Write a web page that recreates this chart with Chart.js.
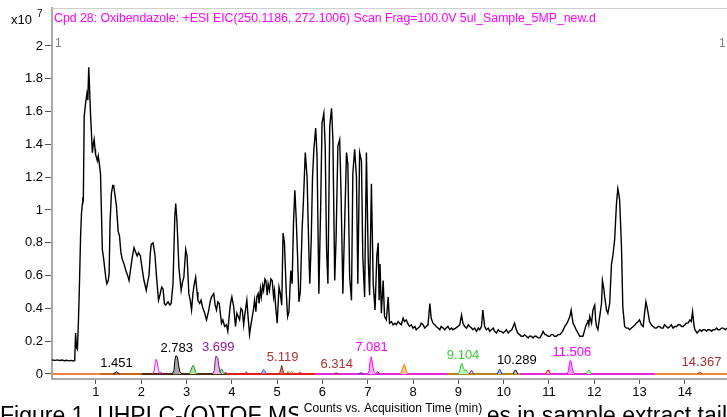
<!DOCTYPE html>
<html lang="en">
<head>
<meta charset="UTF-8">
<title>Cpd 28: Oxibendazole EIC</title>
<style>
  html, body { margin: 0; padding: 0; background: #fff; overflow: hidden; }
  #chart { display: block; }
</style>
</head>
<body>
<canvas id="chart" width="727" height="417"></canvas>
<script src="https://cdn.jsdelivr.net/npm/chart.js@4.4.0/dist/chart.umd.min.js"></script>
<script>
// total ion trace, counts in units of 10^7
var ticTime = [
  0.03, 0.10, 0.15, 0.20, 0.25, 0.30, 0.35, 0.40, 0.45, 0.50, 0.53, 0.55, 0.57, 0.59, 0.61, 0.63, 0.66, 0.68, 0.70, 0.71,
  0.72, 0.74, 0.77, 0.80, 0.82, 0.84, 0.86, 0.88, 0.90, 0.92, 0.94, 0.96, 0.98, 0.99, 1.01, 1.03, 1.05, 1.07, 1.10, 1.14,
  1.17, 1.19, 1.22, 1.24, 1.27, 1.29, 1.31, 1.34, 1.37, 1.39, 1.42, 1.45, 1.49, 1.52, 1.55, 1.58, 1.62, 1.66, 1.70, 1.73,
  1.77, 1.80, 1.84, 1.88, 1.91, 1.94, 1.98, 2.02, 2.06, 2.11, 2.14, 2.17, 2.20, 2.22, 2.26, 2.30, 2.34, 2.38, 2.41, 2.45,
  2.48, 2.51, 2.54, 2.59, 2.63, 2.66, 2.70, 2.74, 2.76, 2.79, 2.83, 2.88, 2.91, 2.94, 2.98, 3.01, 3.05, 3.08, 3.11, 3.14,
  3.17, 3.20, 3.23, 3.25, 3.29, 3.32, 3.35, 3.40, 3.44, 3.49, 3.52, 3.55, 3.60, 3.63, 3.66, 3.69, 3.72, 3.75, 3.77, 3.80,
  3.84, 3.88, 3.91, 3.95, 3.97, 4.00, 4.04, 4.08, 4.11, 4.14, 4.17, 4.20, 4.23, 4.26, 4.28, 4.33, 4.36, 4.39, 4.42, 4.45,
  4.48, 4.50, 4.53, 4.55, 4.58, 4.60, 4.63, 4.65, 4.68, 4.70, 4.73, 4.75, 4.78, 4.80, 4.83, 4.86, 4.89, 4.92, 4.94, 4.97,
  5.00, 5.04, 5.07, 5.10, 5.13, 5.16, 5.20, 5.23, 5.26, 5.30, 5.33, 5.36, 5.39, 5.42, 5.45, 5.48, 5.51, 5.55, 5.58, 5.62,
  5.66, 5.70, 5.72, 5.75, 5.78, 5.81, 5.85, 5.88, 5.92, 5.96, 5.99, 6.03, 6.06, 6.09, 6.12, 6.16, 6.20, 6.23, 6.27, 6.30,
  6.34, 6.38, 6.41, 6.45, 6.49, 6.53, 6.56, 6.60, 6.64, 6.67, 6.71, 6.75, 6.78, 6.82, 6.86, 6.89, 6.93, 6.97, 7.01, 7.04,
  7.08, 7.12, 7.16, 7.20, 7.23, 7.25, 7.27, 7.30, 7.34, 7.37, 7.41, 7.45, 7.48, 7.52, 7.56, 7.60, 7.63, 7.67, 7.70, 7.74,
  7.78, 7.81, 7.85, 7.88, 7.92, 7.96, 8.00, 8.04, 8.07, 8.11, 8.15, 8.18, 8.22, 8.26, 8.29, 8.33, 8.37, 8.40, 8.44, 8.48,
  8.51, 8.55, 8.59, 8.62, 8.66, 8.70, 8.73, 8.77, 8.81, 8.85, 8.88, 8.94, 8.99, 9.03, 9.07, 9.10, 9.14, 9.18, 9.22, 9.25,
  9.29, 9.32, 9.36, 9.40, 9.44, 9.47, 9.51, 9.54, 9.58, 9.62, 9.66, 9.69, 9.73, 9.77, 9.80, 9.84, 9.88, 9.91, 9.95, 9.99,
  10.03, 10.06, 10.10, 10.13, 10.18, 10.24, 10.28, 10.31, 10.35, 10.39, 10.43, 10.46, 10.50, 10.54, 10.57, 10.61, 10.65, 10.68, 10.72, 10.76,
  10.80, 10.84, 10.87, 10.91, 10.94, 10.98, 11.02, 11.05, 11.09, 11.12, 11.16, 11.20, 11.24, 11.30, 11.35, 11.40, 11.46, 11.49, 11.53, 11.57,
  11.60, 11.64, 11.68, 11.72, 11.75, 11.78, 11.81, 11.84, 11.86, 11.88, 11.90, 11.94, 11.97, 12.01, 12.03, 12.05, 12.08, 12.12, 12.16, 12.18,
  12.21, 12.23, 12.27, 12.30, 12.34, 12.38, 12.41, 12.45, 12.49, 12.52, 12.54, 12.56, 12.60, 12.63, 12.67, 12.71, 12.75, 12.78, 12.82, 12.86,
  12.90, 12.93, 12.97, 13.00, 13.04, 13.08, 13.11, 13.14, 13.17, 13.19, 13.22, 13.26, 13.30, 13.34, 13.37, 13.41, 13.44, 13.48, 13.52, 13.55,
  13.59, 13.63, 13.67, 13.70, 13.74, 13.78, 13.82, 13.85, 13.89, 13.93, 13.96, 14.00, 14.03, 14.07, 14.11, 14.14, 14.17, 14.20, 14.22, 14.27,
  14.30, 14.33, 14.37, 14.40, 14.44, 14.48, 14.51, 14.55, 14.59, 14.62, 14.66, 14.70, 14.73, 14.77, 14.81, 14.85, 14.89, 14.93
];
var ticCounts = [
  0.085, 0.083, 0.086, 0.082, 0.085, 0.081, 0.084, 0.080, 0.083, 0.079, 0.082, 0.25, 0.16, 0.15, 0.30, 0.49, 0.84, 0.98, 1.04, 1.08,
  1.05, 1.57, 1.65, 1.71, 1.67, 1.87, 1.73, 1.58, 1.47, 1.35, 1.40, 1.43, 1.37, 1.34, 1.32, 1.30, 1.33, 1.29, 1.22, 0.76,
  0.70, 0.65, 0.58, 0.55, 0.57, 0.61, 0.92, 1.10, 1.15, 1.15, 1.09, 1.03, 0.87, 0.84, 0.74, 0.70, 0.67, 0.63, 0.60, 0.57,
  0.65, 0.71, 0.77, 0.74, 0.72, 0.74, 0.72, 0.64, 0.57, 0.51, 0.56, 0.60, 0.74, 0.79, 0.80, 0.73, 0.58, 0.45, 0.48, 0.53,
  0.52, 0.43, 0.42, 0.44, 0.42, 0.43, 0.55, 0.96, 1.04, 0.92, 0.65, 0.51, 0.56, 0.59, 0.76, 0.72, 0.49, 0.45, 0.39, 0.49,
  0.55, 0.59, 0.50, 0.45, 0.43, 0.45, 0.41, 0.37, 0.33, 0.39, 0.44, 0.47, 0.49, 0.42, 0.39, 0.44, 0.43, 0.36, 0.31, 0.33,
  0.29, 0.30, 0.26, 0.38, 0.43, 0.47, 0.41, 0.29, 0.37, 0.35, 0.33, 0.40, 0.39, 0.30, 0.35, 0.45, 0.34, 0.24, 0.30, 0.35,
  0.40, 0.45, 0.38, 0.47, 0.49, 0.43, 0.52, 0.47, 0.54, 0.51, 0.58, 0.57, 0.48, 0.55, 0.51, 0.58, 0.57, 0.47, 0.51, 0.40,
  0.31, 0.53, 0.49, 0.42, 0.86, 0.80, 0.50, 0.35, 0.38, 0.63, 0.55, 0.92, 1.12, 0.95, 0.72, 0.44, 0.50, 0.88, 1.06, 1.35,
  1.20, 0.74, 0.55, 0.80, 1.20, 1.37, 1.50, 1.33, 0.49, 1.02, 1.53, 1.59, 1.39, 0.76, 0.55, 1.51, 1.62, 1.43, 0.57, 0.82,
  1.39, 1.43, 1.10, 0.49, 0.92, 1.35, 1.28, 0.59, 0.45, 1.22, 1.37, 1.20, 0.55, 1.35, 1.30, 0.72, 0.47, 1.35, 0.70, 0.48,
  1.16, 0.55, 0.39, 0.72, 0.80, 0.45, 0.67, 0.37, 0.57, 0.35, 0.33, 0.47, 0.31, 0.32, 0.30, 0.31, 0.30, 0.32, 0.31, 0.30,
  0.34, 0.32, 0.33, 0.31, 0.29, 0.30, 0.28, 0.29, 0.27, 0.28, 0.29, 0.31, 0.30, 0.28, 0.29, 0.30, 0.43, 0.34, 0.31, 0.30,
  0.29, 0.28, 0.27, 0.29, 0.28, 0.27, 0.28, 0.29, 0.27, 0.28, 0.27, 0.28, 0.29, 0.30, 0.36, 0.31, 0.29, 0.28, 0.30, 0.29,
  0.28, 0.27, 0.28, 0.26, 0.28, 0.27, 0.29, 0.39, 0.29, 0.27, 0.28, 0.26, 0.27, 0.28, 0.26, 0.25, 0.27, 0.26, 0.26, 0.25,
  0.26, 0.27, 0.25, 0.26, 0.27, 0.31, 0.27, 0.25, 0.24, 0.23, 0.23, 0.24, 0.23, 0.22, 0.23, 0.23, 0.22, 0.23, 0.23, 0.22,
  0.22, 0.24, 0.26, 0.24, 0.24, 0.23, 0.23, 0.24, 0.24, 0.23, 0.23, 0.24, 0.24, 0.26, 0.29, 0.31, 0.35, 0.39, 0.31, 0.29,
  0.27, 0.25, 0.23, 0.23, 0.23, 0.26, 0.29, 0.31, 0.33, 0.30, 0.35, 0.31, 0.39, 0.42, 0.33, 0.29, 0.27, 0.35, 0.43, 0.57,
  0.52, 0.47, 0.39, 0.37, 0.43, 0.67, 0.72, 0.82, 1.04, 1.13, 1.10, 1.06, 0.78, 0.41, 0.29, 0.28, 0.28, 0.27, 0.28, 0.29,
  0.30, 0.31, 0.32, 0.33, 0.30, 0.29, 0.37, 0.44, 0.40, 0.37, 0.32, 0.30, 0.29, 0.28, 0.28, 0.29, 0.29, 0.28, 0.28, 0.30,
  0.29, 0.28, 0.29, 0.30, 0.28, 0.29, 0.29, 0.30, 0.30, 0.29, 0.29, 0.30, 0.31, 0.31, 0.33, 0.32, 0.38, 0.30, 0.27, 0.25,
  0.26, 0.27, 0.26, 0.27, 0.27, 0.26, 0.27, 0.27, 0.26, 0.27, 0.27, 0.28, 0.27, 0.27, 0.28, 0.28, 0.27, 0.28
];

// extracted ion traces drawn along the baseline
var baseStart = [0.03, 1.08, 2.00, 3.88, 5.85, 8.75, 10.35, 13.35];
var baseEnd   = [1.08, 2.00, 3.88, 5.85, 8.75, 10.35, 13.35, 14.93];
var baseColors = ['#f2804a', '#c8661c', '#4c2a12', '#e41c1c', '#e828d8', '#b08a14', '#e828d8', '#ee8a30'];

var eicTimes = [
  [1.38, 1.42, 1.45, 1.48, 1.52],
  [2.24, 2.29, 2.31, 2.33, 2.35, 2.38, 2.41, 2.44, 2.46, 2.48],
  [2.68, 2.72, 2.74, 2.76, 2.78, 2.80, 2.82, 2.85, 2.90],
  [3.06, 3.10, 3.13, 3.15, 3.17, 3.20, 3.24],
  [3.57, 3.61, 3.63, 3.65, 3.67, 3.69, 3.71, 3.74, 3.78],
  [3.72, 3.75, 3.78, 3.81, 3.84],
  [3.82, 3.86, 3.90, 4.28, 4.32, 4.36, 5.45, 5.50, 5.55],
  [4.65, 4.68, 4.70, 4.72, 4.76],
  [5.05, 5.08, 5.10, 5.12, 5.15],
  [5.20, 5.24, 5.28],
  [5.28, 5.32, 5.36],
  [6.25, 6.30, 6.35],
  [6.80, 6.85, 6.90],
  [7.00, 7.03, 7.05, 7.07, 7.09, 7.11, 7.14, 7.18],
  [7.18, 7.22, 7.26],
  [7.72, 7.76, 7.79, 7.81, 7.84, 7.88],
  [9.00, 9.04, 9.06, 9.08, 9.11, 9.14, 9.17, 9.20, 9.24],
  [9.24, 9.28, 9.30, 9.34],
  [9.86, 9.89, 9.91, 9.93, 9.96],
  [10.21, 10.24, 10.26, 10.28, 10.31],
  [10.93, 10.96, 10.98, 11.00, 11.03],
  [11.40, 11.43, 11.45, 11.47, 11.49, 11.51, 11.54, 11.58],
  [11.44, 11.47, 11.50],
  [11.83, 11.86, 11.88, 11.90, 11.93],
  [14.28, 14.31, 14.33, 14.35, 14.38]
];
var eicCounts = [
  [0, 0.008, 0.012, 0.008, 0],
  [0, 0.02, 0.07, 0.09, 0.075, 0.02, 0, 0.012, 0.005, 0],
  [0, 0.02, 0.08, 0.11, 0.11, 0.10, 0.06, 0.015, 0],
  [0, 0.025, 0.05, 0.052, 0.04, 0.01, 0],
  [0, 0.02, 0.08, 0.11, 0.11, 0.095, 0.05, 0.01, 0],
  [0, 0.025, 0.03, 0.01, 0],
  [0, 0.012, 0, 0, 0.014, 0, 0, 0.012, 0],
  [0, 0.02, 0.028, 0.02, 0],
  [0, 0.03, 0.052, 0.03, 0],
  [0, 0.015, 0],
  [0, 0.018, 0],
  [0, 0.008, 0],
  [0, 0.008, 0],
  [0, 0.02, 0.08, 0.105, 0.09, 0.05, 0.01, 0],
  [0, 0.015, 0],
  [0, 0.025, 0.055, 0.06, 0.03, 0],
  [0, 0.03, 0.06, 0.065, 0.04, 0.02, 0.025, 0.01, 0],
  [0, 0.02, 0.018, 0],
  [0, 0.02, 0.03, 0.02, 0],
  [0, 0.018, 0.025, 0.018, 0],
  [0, 0.018, 0.025, 0.018, 0],
  [0, 0.02, 0.06, 0.082, 0.075, 0.04, 0.01, 0],
  [0, 0.03, 0],
  [0, 0.018, 0.025, 0.018, 0],
  [0, 0.008, 0.012, 0.008, 0]
];
var eicLine = ['#000000', '#ff00ff', '#000000', '#1a9a1a', '#7a1a7a', '#1a9a1a', '#e41c1c', '#1f5fe0', '#8b2020', '#1a9a1a', '#f08020',
  '#a03030', '#1030d0', '#ff00ff', '#7a1a7a', '#f08020', '#33cc33', '#7a1a7a', '#1030d0', '#000000', '#e41c1c', '#ff00ff',
  '#000000', '#33cc33', '#8b2020'];
var eicFill = [null, null, '#a6a6a6', '#b5e3b5', '#e0bfe0', '#b5e3b5', null, '#a9c8f5', '#d09090', null, null,
  null, null, '#f7b0f7', null, '#f8c890', '#c0f0c0', null, '#a9c8f5', '#c8c8c8', '#f5b0b0', '#f7a0f7',
  null, '#c0f0c0', null];

// peak labels (retention time, label height in 10^7 counts)
var peakLabels = ['1.451', '2.783', '3.699', '5.119', '6.314', '7.081', '9.104', '10.289', '11.506', '14.367'];
var peakLabelY = [0.067, 0.159, 0.165, 0.104, 0.061, 0.165, 0.116, 0.085, 0.134, 0.073];
var peakLabelColors = ['#000000', '#000000', '#8e1a8e', '#b03434', '#b03434', '#ff00ff', '#3ccc3c', '#000000', '#ff00ff', '#a83232'];

var xTicks = [1, 2, 3, 4, 5, 6, 7, 8, 9, 10, 11, 12, 13, 14];
var yTicks = [0, 0.2, 0.4, 0.6, 0.8, 1, 1.2, 1.4, 1.6, 1.8, 2];

var FONT = '"Liberation Sans", Arial, sans-serif';

function pairs(ts, vs) {
  return ts.map(function (t, i) { return { x: t, y: vs[i] }; });
}

var datasets = [];
datasets.push({
  data: pairs(ticTime, ticCounts),
  borderColor: '#000000',
  borderWidth: 1.4,
  pointRadius: 0,
  fill: false,
  order: 2
});
for (var i = 0; i < baseStart.length; i++) {
  datasets.push({
    data: [{ x: baseStart[i], y: 0 }, { x: baseEnd[i], y: 0 }],
    borderColor: baseColors[i],
    borderWidth: 2,
    pointRadius: 0,
    fill: false,
    order: 1
  });
}
for (var j = 0; j < eicTimes.length; j++) {
  datasets.push({
    data: pairs(eicTimes[j], eicCounts[j]),
    borderColor: eicLine[j],
    backgroundColor: eicFill[j] || 'rgba(0,0,0,0)',
    borderWidth: 1,
    pointRadius: 0,
    fill: eicFill[j] ? 'origin' : false,
    order: 0
  });
}

var labelPlugin = {
  id: 'peakLabels',
  afterDatasetsDraw: function (chart) {
    var ctx = chart.ctx, x = chart.scales.x, y = chart.scales.y;
    ctx.save();
    ctx.font = '13px ' + FONT;
    ctx.textAlign = 'center';
    ctx.textBaseline = 'middle';
    peakLabels.forEach(function (t, k) {
      ctx.fillStyle = peakLabelColors[k];
      ctx.fillText(t, x.getPixelForValue(parseFloat(t)), y.getPixelForValue(peakLabelY[k]));
    });
    ctx.restore();
  }
};

var decoPlugin = {
  id: 'deco',
  afterDraw: function (chart) {
    var ctx = chart.ctx, a = chart.chartArea;
    ctx.save();
    // top frame line
    ctx.strokeStyle = '#cfcfcf';
    ctx.lineWidth = 1;
    ctx.beginPath();
    ctx.moveTo(a.left, a.top + 0.5);
    ctx.lineTo(a.right, a.top + 0.5);
    ctx.stroke();

    ctx.fillStyle = '#000';
    ctx.textBaseline = 'alphabetic';
    ctx.font = '13px ' + FONT;
    ctx.fillText('x10', 11, 24);
    ctx.font = '10px ' + FONT;
    ctx.fillText('7', 37, 17);

    ctx.fillStyle = '#ff00ff';
    ctx.font = '12.3px ' + FONT;
    ctx.fillText('Cpd 28: Oxibendazole: +ESI EIC(250.1186, 272.1006) Scan Frag=100.0V 5ul_Sample_5MP_new.d', 54, 22);

    ctx.fillStyle = '#808080';
    ctx.font = '12px ' + FONT;
    ctx.fillText('1', 55, 47);
    ctx.fillText('1', 719, 47);

    // caption, cut off by the bottom of the picture
    ctx.fillStyle = '#000';
    ctx.font = '23px ' + FONT;
    ctx.fillText('Figure 1. UHPLC-(Q)TOF MS', 0, 423);
    ctx.textAlign = 'right';
    ctx.fillText('ices in sample extract tail', 727, 423);

    // axis title on a white box
    ctx.fillStyle = '#fff';
    ctx.fillRect(298, 400, 190, 17);
    ctx.fillStyle = '#000';
    ctx.font = '12px ' + FONT;
    ctx.textAlign = 'center';
    ctx.textBaseline = 'middle';
    ctx.fillText('Counts vs. Acquisition Time (min)', 393, 409);
    ctx.restore();
  }
};

Chart.defaults.font.family = FONT;

new Chart(document.getElementById('chart'), {
  type: 'line',
  data: { datasets: datasets },
  options: {
    responsive: false,
    animation: false,
    devicePixelRatio: 1,
    layout: { padding: { top: 8, left: 0, right: 0, bottom: 0 } },
    plugins: { legend: { display: false }, tooltip: { enabled: false } },
    elements: { line: { tension: 0 } },
    scales: {
      x: {
        type: 'linear',
        min: 0.029,
        max: 14.93,
        grid: { drawOnChartArea: false, drawTicks: true, tickLength: 5, color: '#555' },
        border: { display: true, color: '#a8a8a8', width: 2 },
        ticks: { font: { size: 13 }, color: '#000', padding: 1, maxRotation: 0, autoSkip: false },
        afterBuildTicks: function (s) { s.ticks = xTicks.map(function (v) { return { value: v }; }); },
        afterFit: function (s) { s.height = 38; s.paddingLeft = 0; s.paddingRight = 0; }
      },
      y: {
        min: -0.0305,
        max: 2.2317,
        grid: { drawOnChartArea: false, drawTicks: true, tickLength: 7, color: '#555' },
        border: { display: true, color: '#a8a8a8', width: 2 },
        ticks: {
          font: { size: 13 }, color: '#000', padding: 2,
          callback: function (v) { return String(Math.round(v * 10) / 10); }
        },
        afterBuildTicks: function (s) { s.ticks = yTicks.map(function (v) { return { value: v }; }); },
        afterFit: function (s) { s.width = 52; s.paddingTop = 0; s.paddingBottom = 0; }
      }
    }
  },
  plugins: [labelPlugin, decoPlugin]
});
</script>
</body>
</html>
